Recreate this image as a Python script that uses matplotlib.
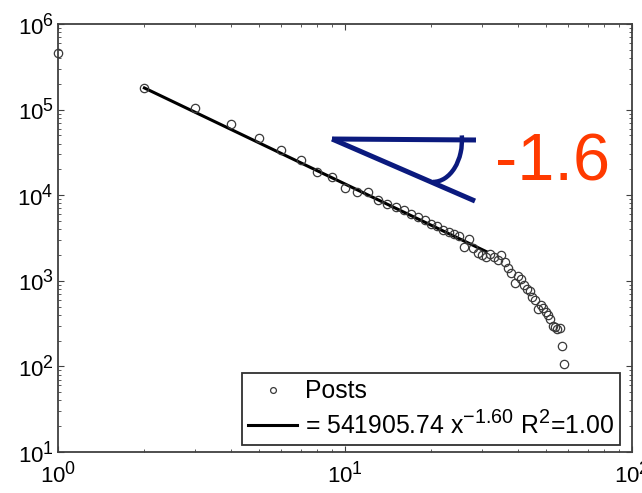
import matplotlib
matplotlib.use('Agg')
import matplotlib.pyplot as plt
import matplotlib._mathtext as mathtext_impl
from matplotlib.patches import Arc

plt.rcParams['font.family'] = ['Liberation Sans', 'DejaVu Sans']
plt.rcParams['mathtext.fontset'] = 'custom'
plt.rcParams['mathtext.rm'] = 'Liberation Sans'
plt.rcParams['mathtext.it'] = 'Liberation Sans:italic'
plt.rcParams['mathtext.bf'] = 'Liberation Sans:bold'
# MATLAB-style superscripts are a bit bigger than mathtext's default
mathtext_impl.SHRINK_FACTOR = 0.8

# rank vs number of posts
rank = list(range(1, 59))
posts = [460000, 178000, 104000, 68000, 46600, 33700, 25800, 18700, 16300, 12100,
         11000, 11000, 8800, 7900, 7300, 6800, 6000, 5500, 5100, 4600,
         4400, 3900, 3700, 3500, 3300, 2480, 3100, 2400, 2100, 2000,
         1900, 2050, 1900, 1750, 2000, 1650, 1400, 1250, 950, 1150,
         1050, 900, 800, 750, 650, 600, 470, 520, 480, 430,
         400, 360, 300, 290, 270, 280, 175, 108]

# power-law fit endpoints
fit_x = [2, 31]
fit_y = [179000, 2200]
fit_label = '= 541905.74 x$^{-1.60}$ R$^2$=1.00'
slope_text = '-1.6'

fig = plt.figure(figsize=(6.42, 4.93), dpi=100)
ax = fig.add_axes([58/642, 41/493, 574/642, 428/493])

ax.plot(rank, posts, 'o', mfc='none', mec='#3a3a3a', ms=6, mew=0.9, label='Posts',
        clip_on=False, zorder=3)
ax.plot(fit_x, fit_y, '-', color='black', lw=2.2, label=fit_label)

ax.set_xscale('log')
ax.set_yscale('log')
ax.set_xlim(1, 100)
ax.set_ylim(10, 1e6)

for s in ax.spines.values():
    s.set_color('#404040')
    s.set_linewidth(1.3)
ax.tick_params(which='both', direction='in', top=True, right=True, colors='#404040',
               labelcolor='black', labelsize=16)
ax.tick_params(which='major', length=4, width=0.8)
ax.tick_params(which='minor', length=2, width=0.6)
ax.tick_params(axis='x', pad=7)
ax.tick_params(axis='y', pad=3)

leg = ax.legend(loc='lower right', bbox_to_anchor=(562/574, 7/428), borderaxespad=0,
                fontsize=17.8, fancybox=False, framealpha=1, edgecolor='#303030',
                handlelength=2.0, handletextpad=0.3, labelspacing=0.3, borderpad=0.25,
                markerscale=0.7)
leg.get_frame().set_linewidth(1.3)

# slope annotation
navy = '#0b1a7e'
ax.plot([0.4774, 0.7282], [0.7313, 0.729], color=navy, lw=3.6, transform=ax.transAxes,
        solid_capstyle='butt')
ax.plot([0.4774, 0.7265], [0.7313, 0.5864], color=navy, lw=3.6, transform=ax.transAxes,
        solid_capstyle='butt')
ax.add_patch(Arc((0.6533, 0.729), 0.101, 0.196, theta1=270, theta2=12,
                 color=navy, lw=3.2, transform=ax.transAxes))
ax.text(0.762, 0.6355, slope_text, color='#ff3a00', fontsize=48,
        transform=ax.transAxes, ha='left', va='baseline')

fig.savefig('out.png', dpi=100)
